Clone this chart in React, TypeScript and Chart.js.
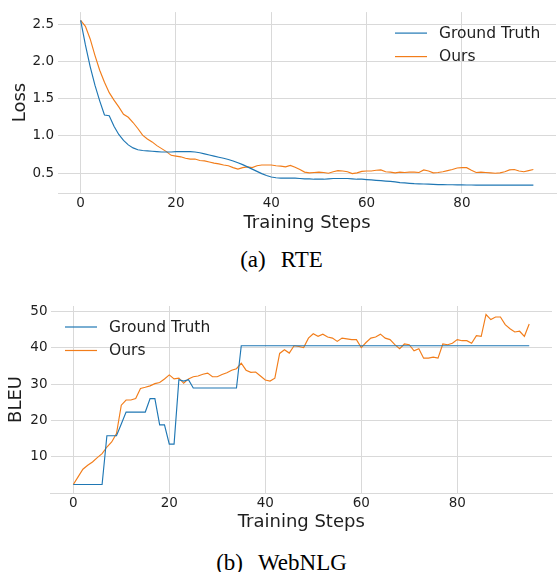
import React, { useEffect, useRef } from "react";
import { Chart, registerables } from "chart.js";

Chart.register(...registerables);

// ---------------- data ----------------
const steps = Array.from({ length: 96 }, (_, i) => i);

const seriesNames = ["Ground Truth", "Ours"];

const rteGroundTruth = [
  2.55, 2.22, 1.93, 1.68, 1.47, 1.28, 1.27, 1.13, 1.02, 0.94,
  0.88, 0.84, 0.815, 0.805, 0.8, 0.795, 0.79, 0.785, 0.785, 0.785,
  0.79, 0.79, 0.79, 0.79, 0.785, 0.775, 0.76, 0.745, 0.73, 0.715,
  0.7, 0.685, 0.665, 0.64, 0.615, 0.585, 0.555, 0.525, 0.495, 0.47,
  0.45, 0.44, 0.435, 0.435, 0.435, 0.435, 0.43, 0.425, 0.425, 0.42,
  0.42, 0.42, 0.425, 0.43, 0.43, 0.43, 0.43, 0.425, 0.42, 0.42,
  0.415, 0.41, 0.405, 0.4, 0.395, 0.39, 0.385, 0.375, 0.37, 0.365,
  0.36, 0.357, 0.355, 0.353, 0.35, 0.348, 0.347, 0.346, 0.345, 0.344,
  0.343, 0.342, 0.342, 0.341, 0.341, 0.34, 0.34, 0.34, 0.34, 0.34,
  0.34, 0.34, 0.34, 0.34, 0.34, 0.34,
];

const rteOurs = [
  2.55, 2.47, 2.3, 2.08, 1.88, 1.72, 1.58, 1.48, 1.39, 1.29,
  1.25, 1.18, 1.1, 1.01, 0.96, 0.92, 0.87, 0.83, 0.79, 0.74,
  0.73, 0.72, 0.7, 0.69, 0.69, 0.67, 0.665, 0.65, 0.635, 0.625,
  0.61, 0.6, 0.575, 0.555, 0.575, 0.585, 0.575, 0.6, 0.61, 0.61,
  0.61, 0.6, 0.595, 0.585, 0.605, 0.58, 0.55, 0.515, 0.505, 0.51,
  0.515, 0.51, 0.5, 0.52, 0.535, 0.53, 0.52, 0.495, 0.505, 0.525,
  0.53, 0.53, 0.54, 0.545, 0.52, 0.515, 0.505, 0.515, 0.51, 0.515,
  0.515, 0.51, 0.545, 0.53, 0.505, 0.51, 0.52, 0.535, 0.55, 0.57,
  0.575, 0.575, 0.54, 0.51, 0.515, 0.51, 0.505, 0.5, 0.505, 0.52,
  0.545, 0.55, 0.53, 0.52, 0.535, 0.55,
];

const webnlgGroundTruth = [
  2.4, 2.4, 2.4, 2.4, 2.4, 2.4, 2.4, 15.8, 15.8, 15.8,
  19.0, 22.3, 22.3, 22.3, 22.3, 22.3, 26.0, 26.0, 18.8, 18.8,
  13.5, 13.5, 31.2, 30.8, 31.2, 28.9, 28.9, 28.9, 28.9, 28.9,
  28.9, 28.9, 28.9, 28.9, 28.9, 40.5, 40.5, 40.5, 40.5, 40.5,
  40.5, 40.5, 40.5, 40.5, 40.5, 40.5, 40.5, 40.5, 40.5, 40.5,
  40.5, 40.5, 40.5, 40.5, 40.5, 40.5, 40.5, 40.5, 40.5, 40.5,
  40.5, 40.5, 40.5, 40.5, 40.5, 40.5, 40.5, 40.5, 40.5, 40.5,
  40.5, 40.5, 40.5, 40.5, 40.5, 40.5, 40.5, 40.5, 40.5, 40.5,
  40.5, 40.5, 40.5, 40.5, 40.5, 40.5, 40.5, 40.5, 40.5, 40.5,
  40.5, 40.5, 40.5, 40.5, 40.5, 40.5,
];

const webnlgOurs = [
  2.4, 4.5, 6.6, 7.7, 8.6, 9.8, 10.9, 12.7, 14.1, 16.4,
  24.2, 25.6, 25.6, 26.0, 28.8, 29.1, 29.5, 30.1, 30.4, 31.4,
  32.5, 31.4, 31.6, 30.2, 31.4, 32.0, 32.2, 32.7, 33.0, 32.0,
  32.0, 32.6, 33.1, 33.8, 34.2, 35.7, 33.8, 33.2, 33.3, 32.2,
  31.1, 30.8, 31.6, 38.4, 39.4, 38.5, 40.5, 40.3, 40.0, 42.6,
  43.8, 43.1, 43.7, 42.9, 42.6, 41.7, 42.6, 42.4, 42.2, 42.2,
  40.0, 41.4, 42.6, 42.9, 43.7, 42.6, 42.2, 40.8, 39.7, 41.0,
  40.8, 39.1, 39.7, 37.1, 37.1, 37.4, 37.1, 41.0, 40.8, 41.2,
  42.2, 41.9, 41.9, 41.2, 43.3, 43.1, 49.1, 47.7, 48.4, 48.4,
  46.3, 45.2, 44.3, 44.5, 43.1, 46.5,
];

const xTicks = [0, 20, 40, 60, 80];
const rteYTicks = [0.5, 1.0, 1.5, 2.0, 2.5];
const webnlgYTicks = [10, 20, 30, 40, 50];

const xTitle = "Training Steps";
const rteYTitle = "Loss";
const webnlgYTitle = "BLEU";
const captionA = ["(a)", "RTE"];
const captionB = ["(b)", "WebNLG"];

// ---------------- styling ----------------
const BLUE = "#1f77b4";
const ORANGE = "#f27d1a";
const GRID = "#d9d9d9";
const TEXT = "#1e1e1e";
const FONT = "'DejaVu Sans', sans-serif";

Chart.defaults.font.family = FONT;

const insideLegend = {
  id: "insideLegend",
  afterDatasetsDraw(chart: any, _args: any, opts: any) {
    const { ctx, chartArea } = chart;
    const x0 =
      opts.side === "right"
        ? chartArea.right - opts.offset
        : chartArea.left + opts.offset;
    ctx.save();
    ctx.font = `15.5px ${FONT}`;
    ctx.textBaseline = "middle";
    ctx.textAlign = "left";
    chart.data.datasets.forEach((ds: any, i: number) => {
      const y = chartArea.top + 21 + i * 23.5;
      ctx.strokeStyle = ds.borderColor;
      ctx.lineWidth = 1.2;
      ctx.beginPath();
      ctx.moveTo(x0, y);
      ctx.lineTo(x0 + 32, y);
      ctx.stroke();
      ctx.fillStyle = TEXT;
      ctx.fillText(ds.label, x0 + 44, y + 0.5);
    });
    ctx.restore();
  },
};

type Cfg = {
  gt: number[];
  ours: number[];
  yTicks: number[];
  yMin: number;
  yMax: number;
  yTitle: string;
  yTitlePad: number;
  yTickPad: number;
  yWidth: number;
  xHeight: number;
  padding: { top: number; right: number; left: number; bottom: number };
  legendSide: "left" | "right";
  legendOffset: number;
};

function makeConfig(c: Cfg): any {
  const toXY = (arr: number[]) => steps.map((s, i) => ({ x: s, y: arr[i] }));
  return {
    type: "line",
    data: {
      datasets: [
        {
          label: seriesNames[0],
          data: toXY(c.gt),
          borderColor: BLUE,
          backgroundColor: BLUE,
          borderWidth: 1.15,
          pointRadius: 0,
          tension: 0,
        },
        {
          label: seriesNames[1],
          data: toXY(c.ours),
          borderColor: ORANGE,
          backgroundColor: ORANGE,
          borderWidth: 1.15,
          pointRadius: 0,
          tension: 0,
        },
      ],
    },
    options: {
      responsive: false,
      maintainAspectRatio: false,
      animation: false,
      layout: { padding: c.padding },
      plugins: {
        legend: { display: false },
        tooltip: { enabled: false },
        insideLegend: { side: c.legendSide, offset: c.legendOffset },
      },
      scales: {
        x: {
          type: "linear",
          min: -4.75,
          max: 99.75,
          afterBuildTicks: (axis: any) => {
            axis.ticks = xTicks.map((v) => ({ value: v }));
          },
          afterFit: (axis: any) => {
            axis.height = c.xHeight;
          },
          grid: { color: GRID, lineWidth: 1, drawTicks: false },
          border: { display: true, color: GRID, width: 1 },
          ticks: {
            padding: 2,
            color: TEXT,
            font: { size: 13.5, lineHeight: 1.2 },
            maxRotation: 0,
          },
          title: {
            display: true,
            text: xTitle,
            color: TEXT,
            font: { size: 18, lineHeight: 1.2 },
            padding: { top: 0, bottom: 0 },
          },
        },
        y: {
          type: "linear",
          min: c.yMin,
          max: c.yMax,
          afterBuildTicks: (axis: any) => {
            axis.ticks = c.yTicks.map((v) => ({ value: v }));
          },
          afterFit: (axis: any) => {
            axis.width = c.yWidth;
          },
          grid: { color: GRID, lineWidth: 1, drawTicks: false },
          border: { display: false },
          ticks: {
            padding: c.yTickPad,
            color: TEXT,
            font: { size: 13.5, lineHeight: 1.2 },
            callback: (v: any) =>
              c.yTicks === rteYTicks ? Number(v).toFixed(1) : String(v),
          },
          title: {
            display: true,
            text: c.yTitle,
            color: TEXT,
            font: { size: 18, lineHeight: 1.2 },
            padding: { top: c.yTitlePad, bottom: 0 },
          },
        },
      },
    },
    plugins: [insideLegend],
  };
}

function LineChart(props: { top: number; height: number; cfg: Cfg }) {
  const ref = useRef<HTMLCanvasElement | null>(null);
  useEffect(() => {
    if (!ref.current) return;
    const chart = new Chart(ref.current, makeConfig(props.cfg));
    return () => chart.destroy();
  }, []);
  return (
    <canvas
      ref={ref}
      width={559}
      height={props.height}
      style={{
        position: "absolute",
        left: 0,
        top: props.top,
        width: 559,
        height: props.height,
      }}
    />
  );
}

function Caption(props: { top: number; parts: string[] }) {
  return (
    <div
      style={{
        position: "absolute",
        left: 2,
        top: props.top,
        width: 559,
        textAlign: "center",
        fontFamily: "'Liberation Serif', 'Times New Roman', serif",
        fontSize: 23,
        lineHeight: "23px",
        color: "#000",
        whiteSpace: "pre",
      }}
    >
      <span>{props.parts[0]}</span>
      <span style={{ marginLeft: 15 }}>{props.parts[1]}</span>
    </div>
  );
}

export default function App() {
  return (
    <div
      style={{
        position: "fixed",
        left: 0,
        top: 0,
        width: 559,
        height: 572,
        background: "#fff",
        overflow: "hidden",
      }}
    >
      <LineChart
        top={0}
        height={234}
        cfg={{
          gt: rteGroundTruth,
          ours: rteOurs,
          yTicks: rteYTicks,
          yMin: 0.235,
          yMax: 2.66,
          yTitle: rteYTitle,
          yTitlePad: 10,
          yTickPad: 4,
          yWidth: 58,
          xHeight: 41,
          padding: { top: 6, right: 3, left: 0, bottom: 0 },
          legendSide: "right",
          legendOffset: 161,
        }}
      />
      <Caption top={248} parts={captionA} />
      <LineChart
        top={290}
        height={243}
        cfg={{
          gt: webnlgGroundTruth,
          ours: webnlgOurs,
          yTicks: webnlgYTicks,
          yMin: 0.07,
          yMax: 51.43,
          yTitle: webnlgYTitle,
          yTitlePad: 6,
          yTickPad: 3,
          yWidth: 50.5,
          xHeight: 40,
          padding: { top: 16, right: 7, left: 0, bottom: 0 },
          legendSide: "left",
          legendOffset: 14.5,
        }}
      />
      <Caption top={551} parts={captionB} />
    </div>
  );
}
